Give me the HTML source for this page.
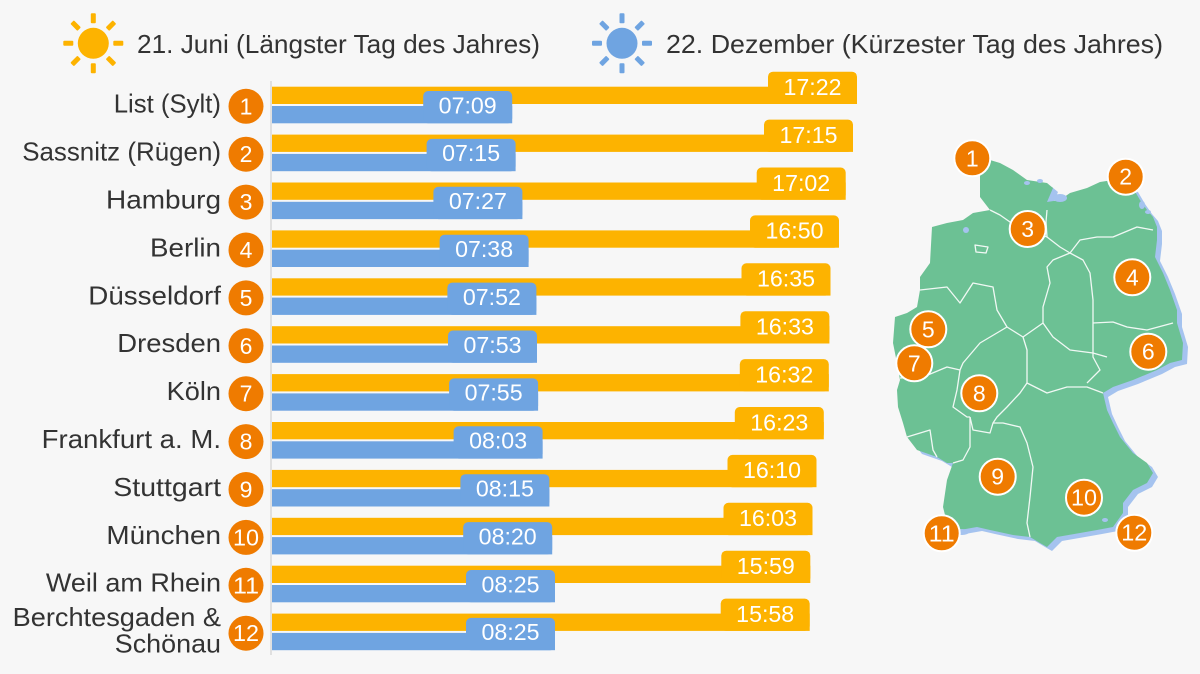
<!DOCTYPE html>
<html><head><meta charset="utf-8"><style>
html,body{margin:0;padding:0;background:#f7f7f7;}
svg{display:block;font-family:"Liberation Sans",sans-serif;}
</style></head><body>
<svg width="1200" height="674" viewBox="0 0 1200 674" xmlns="http://www.w3.org/2000/svg">
<rect width="1200" height="674" fill="#f7f7f7"/>
<defs>
<g id="rays">
<rect x="-2.5" y="-30" width="5" height="10" rx="1"/>
<rect x="-2.5" y="-30" width="5" height="10" rx="1" transform="rotate(45)"/>
<rect x="-2.5" y="-30" width="5" height="10" rx="1" transform="rotate(90)"/>
<rect x="-2.5" y="-30" width="5" height="10" rx="1" transform="rotate(135)"/>
<rect x="-2.5" y="-30" width="5" height="10" rx="1" transform="rotate(180)"/>
<rect x="-2.5" y="-30" width="5" height="10" rx="1" transform="rotate(225)"/>
<rect x="-2.5" y="-30" width="5" height="10" rx="1" transform="rotate(270)"/>
<rect x="-2.5" y="-30" width="5" height="10" rx="1" transform="rotate(315)"/>
</g>
<path id="de" d="M980,162 L990,160 L1000,163 L1013,170 L1027,180 L1047,183 L1053,188 L1047,202 L1060,200 L1070,193 L1087,188 L1100,182 L1113,180 L1133,188 L1140,200 L1147,210 L1153,217 L1157,227 L1157,240 L1155,257 L1163,273 L1170,290 L1177,310 L1177,323 L1180,333 L1183,343 L1182,360 L1170,363 L1157,370 L1133,380 L1113,387 L1103,393 L1107,410 L1113,423 L1120,437 L1133,453 L1147,463 L1153,473 L1147,483 L1133,490 L1123,503 L1123,513 L1113,527 L1097,530 L1080,533 L1057,537 L1047,547 L1040,543 L1030,537 L1013,535 L990,530 L977,527 L960,530 L947,523 L943,507 L947,480 L953,463 L947,463 L937,457 L917,450 L907,437 L903,423 L898,407 L897,390 L900,380 L897,363 L893,343 L895,317 L907,313 L917,307 L920,290 L920,277 L930,263 L932,227 L947,223 L963,220 L973,213 L990,210 L980,197 L980,177 Z"/>
</defs>
<!-- legend -->
<g transform="translate(93.3,43.3)" fill="#fdb300"><circle r="15.5"/><use href="#rays"/></g>
<text x="137" y="53" font-size="26" fill="#333" textLength="403" lengthAdjust="spacingAndGlyphs">21. Juni (Längster Tag des Jahres)</text>
<g transform="translate(622,43.3)" fill="#6fa4e1"><circle r="15.5"/><use href="#rays"/></g>
<text x="666" y="53" font-size="26" fill="#333" textLength="497" lengthAdjust="spacingAndGlyphs">22. Dezember (Kürzester Tag des Jahres)</text>

<line x1="271" y1="81" x2="271" y2="655" stroke="#c8c8c8" stroke-width="1"/>

<g font-size="23" fill="#fff" text-anchor="middle">
<g transform="translate(0,106.3)">
<rect x="272" y="-19.6" width="585" height="17.3" fill="#fdb300"/><rect x="768" y="-34.6" width="89" height="32.3" rx="5" fill="#fdb300"/><text x="812.5" y="-11.3" textLength="58" lengthAdjust="spacingAndGlyphs">17:22</text>
<rect x="272" y="-0.3" width="240.2" height="17.3" fill="#6fa4e1"/><rect x="423.2" y="-15.3" width="89" height="32.3" rx="5" fill="#6fa4e1"/><text x="467.7" y="7" textLength="58" lengthAdjust="spacingAndGlyphs">07:09</text>
</g>
<g transform="translate(0,154.2)">
<rect x="272" y="-19.6" width="581" height="17.3" fill="#fdb300"/><rect x="764" y="-34.6" width="89" height="32.3" rx="5" fill="#fdb300"/><text x="808.5" y="-11.3" textLength="58" lengthAdjust="spacingAndGlyphs">17:15</text>
<rect x="272" y="-0.3" width="243.6" height="17.3" fill="#6fa4e1"/><rect x="426.6" y="-15.3" width="89" height="32.3" rx="5" fill="#6fa4e1"/><text x="471.1" y="7" textLength="58" lengthAdjust="spacingAndGlyphs">07:15</text>
</g>
<g transform="translate(0,202.1)">
<rect x="272" y="-19.6" width="573.7" height="17.3" fill="#fdb300"/><rect x="756.7" y="-34.6" width="89" height="32.3" rx="5" fill="#fdb300"/><text x="801.2" y="-11.3" textLength="58" lengthAdjust="spacingAndGlyphs">17:02</text>
<rect x="272" y="-0.3" width="250.4" height="17.3" fill="#6fa4e1"/><rect x="433.4" y="-15.3" width="89" height="32.3" rx="5" fill="#6fa4e1"/><text x="477.9" y="7" textLength="58" lengthAdjust="spacingAndGlyphs">07:27</text>
</g>
<g transform="translate(0,250)">
<rect x="272" y="-19.6" width="567" height="17.3" fill="#fdb300"/><rect x="750" y="-34.6" width="89" height="32.3" rx="5" fill="#fdb300"/><text x="794.5" y="-11.3" textLength="58" lengthAdjust="spacingAndGlyphs">16:50</text>
<rect x="272" y="-0.3" width="256.6" height="17.3" fill="#6fa4e1"/><rect x="439.6" y="-15.3" width="89" height="32.3" rx="5" fill="#6fa4e1"/><text x="484.1" y="7" textLength="58" lengthAdjust="spacingAndGlyphs">07:38</text>
</g>
<g transform="translate(0,297.9)">
<rect x="272" y="-19.6" width="558.5" height="17.3" fill="#fdb300"/><rect x="741.5" y="-34.6" width="89" height="32.3" rx="5" fill="#fdb300"/><text x="786" y="-11.3" textLength="58" lengthAdjust="spacingAndGlyphs">16:35</text>
<rect x="272" y="-0.3" width="264.4" height="17.3" fill="#6fa4e1"/><rect x="447.4" y="-15.3" width="89" height="32.3" rx="5" fill="#6fa4e1"/><text x="491.9" y="7" textLength="58" lengthAdjust="spacingAndGlyphs">07:52</text>
</g>
<g transform="translate(0,345.8)">
<rect x="272" y="-19.6" width="557.4" height="17.3" fill="#fdb300"/><rect x="740.4" y="-34.6" width="89" height="32.3" rx="5" fill="#fdb300"/><text x="784.9" y="-11.3" textLength="58" lengthAdjust="spacingAndGlyphs">16:33</text>
<rect x="272" y="-0.3" width="265" height="17.3" fill="#6fa4e1"/><rect x="448" y="-15.3" width="89" height="32.3" rx="5" fill="#6fa4e1"/><text x="492.5" y="7" textLength="58" lengthAdjust="spacingAndGlyphs">07:53</text>
</g>
<g transform="translate(0,393.7)">
<rect x="272" y="-19.6" width="556.8" height="17.3" fill="#fdb300"/><rect x="739.8" y="-34.6" width="89" height="32.3" rx="5" fill="#fdb300"/><text x="784.3" y="-11.3" textLength="58" lengthAdjust="spacingAndGlyphs">16:32</text>
<rect x="272" y="-0.3" width="266.1" height="17.3" fill="#6fa4e1"/><rect x="449.1" y="-15.3" width="89" height="32.3" rx="5" fill="#6fa4e1"/><text x="493.6" y="7" textLength="58" lengthAdjust="spacingAndGlyphs">07:55</text>
</g>
<g transform="translate(0,441.6)">
<rect x="272" y="-19.6" width="551.8" height="17.3" fill="#fdb300"/><rect x="734.8" y="-34.6" width="89" height="32.3" rx="5" fill="#fdb300"/><text x="779.3" y="-11.3" textLength="58" lengthAdjust="spacingAndGlyphs">16:23</text>
<rect x="272" y="-0.3" width="270.6" height="17.3" fill="#6fa4e1"/><rect x="453.6" y="-15.3" width="89" height="32.3" rx="5" fill="#6fa4e1"/><text x="498.1" y="7" textLength="58" lengthAdjust="spacingAndGlyphs">08:03</text>
</g>
<g transform="translate(0,489.5)">
<rect x="272" y="-19.6" width="544.5" height="17.3" fill="#fdb300"/><rect x="727.5" y="-34.6" width="89" height="32.3" rx="5" fill="#fdb300"/><text x="772" y="-11.3" textLength="58" lengthAdjust="spacingAndGlyphs">16:10</text>
<rect x="272" y="-0.3" width="277.4" height="17.3" fill="#6fa4e1"/><rect x="460.4" y="-15.3" width="89" height="32.3" rx="5" fill="#6fa4e1"/><text x="504.9" y="7" textLength="58" lengthAdjust="spacingAndGlyphs">08:15</text>
</g>
<g transform="translate(0,537.4)">
<rect x="272" y="-19.6" width="540.5" height="17.3" fill="#fdb300"/><rect x="723.5" y="-34.6" width="89" height="32.3" rx="5" fill="#fdb300"/><text x="768" y="-11.3" textLength="58" lengthAdjust="spacingAndGlyphs">16:03</text>
<rect x="272" y="-0.3" width="280.2" height="17.3" fill="#6fa4e1"/><rect x="463.2" y="-15.3" width="89" height="32.3" rx="5" fill="#6fa4e1"/><text x="507.7" y="7" textLength="58" lengthAdjust="spacingAndGlyphs">08:20</text>
</g>
<g transform="translate(0,585.3)">
<rect x="272" y="-19.6" width="538.3" height="17.3" fill="#fdb300"/><rect x="721.3" y="-34.6" width="89" height="32.3" rx="5" fill="#fdb300"/><text x="765.8" y="-11.3" textLength="58" lengthAdjust="spacingAndGlyphs">15:59</text>
<rect x="272" y="-0.3" width="283" height="17.3" fill="#6fa4e1"/><rect x="466" y="-15.3" width="89" height="32.3" rx="5" fill="#6fa4e1"/><text x="510.5" y="7" textLength="58" lengthAdjust="spacingAndGlyphs">08:25</text>
</g>
<g transform="translate(0,633.2)">
<rect x="272" y="-19.6" width="537.7" height="17.3" fill="#fdb300"/><rect x="720.7" y="-34.6" width="89" height="32.3" rx="5" fill="#fdb300"/><text x="765.2" y="-11.3" textLength="58" lengthAdjust="spacingAndGlyphs">15:58</text>
<rect x="272" y="-0.3" width="283" height="17.3" fill="#6fa4e1"/><rect x="466" y="-15.3" width="89" height="32.3" rx="5" fill="#6fa4e1"/><text x="510.5" y="7" textLength="58" lengthAdjust="spacingAndGlyphs">08:25</text>
</g>
</g>

<!-- row circles -->
<g fill="#ef7b00">
<circle cx="246" cy="106.3" r="17.5"/><circle cx="246" cy="154.2" r="17.5"/><circle cx="246" cy="202.1" r="17.5"/><circle cx="246" cy="250" r="17.5"/>
<circle cx="246" cy="297.9" r="17.5"/><circle cx="246" cy="345.8" r="17.5"/><circle cx="246" cy="393.7" r="17.5"/><circle cx="246" cy="441.6" r="17.5"/>
<circle cx="246" cy="489.5" r="17.5"/><circle cx="246" cy="537.4" r="17.5"/><circle cx="246" cy="585.3" r="17.5"/><circle cx="246" cy="633.2" r="17.5"/>
</g>
<g font-size="23" fill="#fff" text-anchor="middle">
<text x="246" y="114.3">1</text><text x="246" y="162.2">2</text><text x="246" y="210.1">3</text><text x="246" y="258">4</text>
<text x="246" y="305.9">5</text><text x="246" y="353.8">6</text><text x="246" y="401.7">7</text><text x="246" y="449.6">8</text>
<text x="246" y="497.5">9</text>
<text x="246" y="545.4" textLength="26" lengthAdjust="spacingAndGlyphs">10</text>
<text x="246" y="593.3" textLength="26" lengthAdjust="spacingAndGlyphs">11</text>
<text x="246" y="641.2" textLength="26" lengthAdjust="spacingAndGlyphs">12</text>
</g>

<!-- city labels -->
<g font-size="26" fill="#333" text-anchor="end">
<text x="221" y="112.7" textLength="107.3" lengthAdjust="spacingAndGlyphs">List (Sylt)</text>
<text x="221" y="160.6" textLength="198.8" lengthAdjust="spacingAndGlyphs">Sassnitz (Rügen)</text>
<text x="221" y="208.5" textLength="115" lengthAdjust="spacingAndGlyphs">Hamburg</text>
<text x="221" y="256.4" textLength="71" lengthAdjust="spacingAndGlyphs">Berlin</text>
<text x="221" y="304.3" textLength="132.7" lengthAdjust="spacingAndGlyphs">Düsseldorf</text>
<text x="221" y="352.2" textLength="103.7" lengthAdjust="spacingAndGlyphs">Dresden</text>
<text x="221" y="400.1" textLength="54.3" lengthAdjust="spacingAndGlyphs">Köln</text>
<text x="221" y="448" textLength="179.3" lengthAdjust="spacingAndGlyphs">Frankfurt a. M.</text>
<text x="221" y="495.9" textLength="107.7" lengthAdjust="spacingAndGlyphs">Stuttgart</text>
<text x="221" y="543.8" textLength="114.6" lengthAdjust="spacingAndGlyphs">München</text>
<text x="221" y="591.7" textLength="175.1" lengthAdjust="spacingAndGlyphs">Weil am Rhein</text>
<text x="221" y="626" textLength="208.4" lengthAdjust="spacingAndGlyphs">Berchtesgaden &amp;</text>
<text x="221" y="652.7" textLength="106.2" lengthAdjust="spacingAndGlyphs">Schönau</text>
</g>

<!-- map -->
<g>
<use href="#de" transform="translate(5,4)" fill="#a5c3ef"/>
<use href="#de" fill="#6cc194"/>
<g fill="#a5c3ef">
<ellipse cx="1060" cy="198" rx="7" ry="4"/><ellipse cx="1027" cy="183" rx="3" ry="2"/><ellipse cx="1040" cy="181" rx="3" ry="2"/>
<ellipse cx="1142" cy="205" rx="3" ry="4"/><ellipse cx="1148" cy="212" rx="3" ry="2"/>
<ellipse cx="966" cy="230" rx="3" ry="3"/><ellipse cx="962" cy="532" rx="7" ry="3"/><ellipse cx="1105" cy="520" rx="3" ry="2"/>
</g>
<g fill="none" stroke="#ffffff" stroke-width="1.3" stroke-linejoin="round" opacity="0.9">
<path d="M990,210 L1000,215 L1010,222 L1022,228 L1035,232 L1047,237"/>
<path d="M1047,237 L1046,222 L1047,210"/>
<path d="M1047,237 L1060,247 L1070,253"/>
<path d="M1070,253 L1080,240 L1097,237 L1113,237 L1137,227 L1153,230"/>
<path d="M1070,253 L1053,260 L1047,267 L1050,283 L1043,307 L1043,323 L1023,337"/>
<path d="M1070,253 L1083,260 L1090,273 L1093,300 L1093,323"/>
<path d="M1093,323 L1113,322 L1127,327 L1147,330 L1173,323"/>
<path d="M1043,323 L1053,337 L1070,350 L1093,353 L1107,357"/>
<path d="M1093,323 L1093,357 L1100,370 L1087,383"/>
<path d="M1023,337 L1027,350 L1027,383 L1047,393 L1067,387 L1087,387 L1103,393"/>
<path d="M920,290 L947,287 L960,303 L973,283 L993,287 L997,310 L1007,327 L1023,337"/>
<path d="M1007,327 L980,343 L963,363 L960,370"/>
<path d="M900,378 L923,377 L947,367 L960,370"/>
<path d="M960,370 L957,390 L953,407 L967,417 L970,417"/>
<path d="M1027,383 L1020,393 L1007,407 L997,417 L993,423"/>
<path d="M970,417 L973,430 L990,433 L993,423 L1003,423 L1020,427 L1027,443 L1033,467 L1030,497 L1027,523 L1030,537"/>
<path d="M970,417 L970,447 L963,460 L953,463"/>
<path d="M907,437 L930,430 L933,450 L937,457"/>
<path d="M975,245 L988,247 L986,253 L976,252 Z"/>
</g>
<g fill="#ef7b00" stroke="#fff" stroke-width="2">
<circle cx="972.3" cy="158.3" r="18"/><circle cx="1125.7" cy="176.7" r="18"/><circle cx="1027.7" cy="229" r="18"/>
<circle cx="1132.3" cy="277.3" r="18"/><circle cx="928.3" cy="329.3" r="18"/><circle cx="1148.3" cy="351.7" r="18"/>
<circle cx="914.3" cy="363.3" r="18"/><circle cx="979.3" cy="393.3" r="18"/><circle cx="997.7" cy="476.7" r="18"/>
<circle cx="1084" cy="497.7" r="18"/><circle cx="941.7" cy="533.3" r="18"/><circle cx="1134.3" cy="532.7" r="18"/>
</g>
<g font-size="23" fill="#fff" text-anchor="middle">
<text x="972.3" y="166.3">1</text><text x="1125.7" y="184.7">2</text><text x="1027.7" y="237">3</text>
<text x="1132.3" y="285.3">4</text><text x="928.3" y="337.3">5</text><text x="1148.3" y="359.7">6</text>
<text x="914.3" y="371.3">7</text><text x="979.3" y="401.3">8</text><text x="997.7" y="484.7">9</text>
<text x="1084" y="505.7" textLength="26" lengthAdjust="spacingAndGlyphs">10</text>
<text x="941.7" y="541.3" textLength="26" lengthAdjust="spacingAndGlyphs">11</text>
<text x="1134.3" y="540.7" textLength="26" lengthAdjust="spacingAndGlyphs">12</text>
</g>
</g>
</svg>
</body></html>
